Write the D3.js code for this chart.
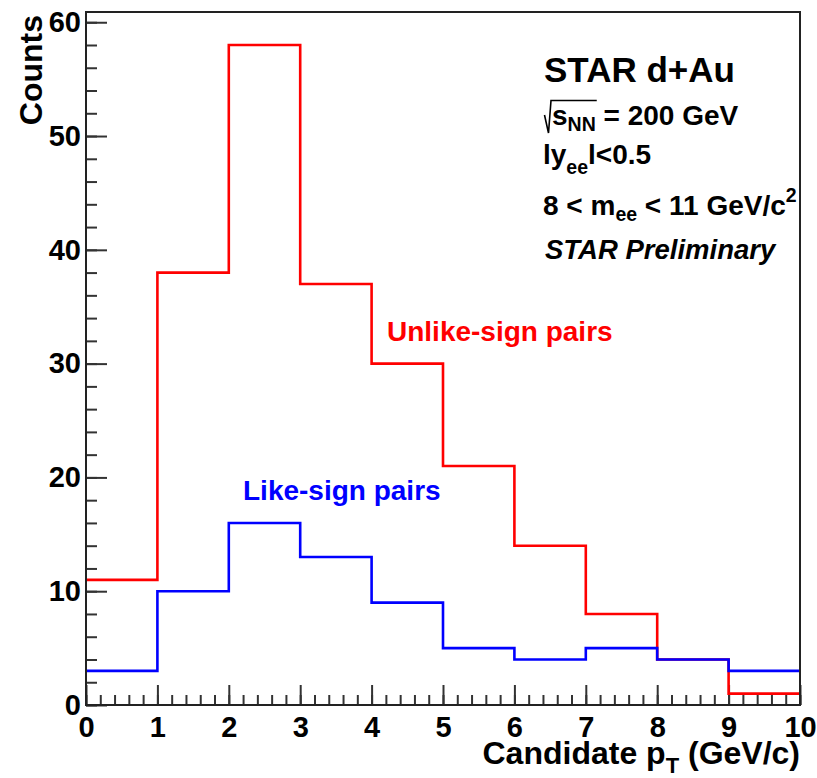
<!DOCTYPE html>
<html>
<head>
<meta charset="utf-8">
<script src="https://cdn.jsdelivr.net/npm/d3@7"></script>
<style>
  body { margin: 0; background: #fff; }
  text { font-family: "Liberation Sans", Arial, Helvetica, sans-serif; font-weight: bold; fill: #000; }
</style>
</head>
<body>
<svg id="chart" width="817" height="778"></svg>
<script>
// Candidate pT histogram: bin edges and per-bin counts
const binEdges = [0, 1, 2, 3, 4, 5, 6, 7, 8, 9, 10];
const unlikeSignCounts = [11, 38, 58, 37, 30, 21, 14, 8, 4, 1];
const likeSignCounts = [3, 10, 16, 13, 9, 5, 4, 5, 4, 3];
const xTickValues = [0, 1, 2, 3, 4, 5, 6, 7, 8, 9, 10];
const yTickValues = [0, 10, 20, 30, 40, 50, 60];
const yMax = 60.9;

const svg = d3.select("#chart");
const frame = { left: 86, top: 12, right: 800, bottom: 705 };

const x = d3.scaleLinear().domain([0, 10]).range([frame.left, frame.right]);
const y = d3.scaleLinear().domain([0, yMax]).range([frame.bottom, frame.top]);

// minor ticks
const xMinor = d3.range(0, 10.0001, 0.2).map(v => +v.toFixed(1));
const yMinor = d3.range(0, 60.0001, 2);

function styleAxis(g) {
  g.select(".domain").remove();
  g.selectAll(".tick line").attr("stroke", "#333").attr("stroke-width", 2);
  g.selectAll(".tick text")
    .style("font-family", '"Liberation Sans", Arial, sans-serif')
    .style("font-weight", "bold")
    .style("font-size", "29px")
    .attr("fill", "#000");
}

// x axis: minor then major ticks pointing up into the frame
svg.append("g")
  .attr("transform", `translate(0,${frame.bottom})`)
  .call(d3.axisBottom(x).tickValues(xMinor).tickSize(-10).tickFormat(""))
  .call(styleAxis);
svg.append("g")
  .attr("transform", `translate(0,${frame.bottom})`)
  .call(d3.axisBottom(x).tickValues(xTickValues).tickSize(-20).tickPadding(11).tickFormat(d3.format("d")))
  .call(styleAxis);

// y axis: minor then major ticks pointing right into the frame
svg.append("g")
  .attr("transform", `translate(${frame.left},0)`)
  .call(d3.axisLeft(y).tickValues(yMinor).tickSize(-11).tickFormat(""))
  .call(styleAxis);
svg.append("g")
  .attr("transform", `translate(${frame.left},0)`)
  .call(d3.axisLeft(y).tickValues(yTickValues).tickSize(-21).tickPadding(5).tickFormat(d3.format("d")))
  .call(styleAxis);

// histograms drawn as steps
const stepLine = d3.line()
  .x(d => x(d[0]))
  .y(d => y(d[1]))
  .curve(d3.curveStepAfter);

function steps(counts) {
  return binEdges.map((e, i) => [e, counts[Math.min(i, counts.length - 1)]]);
}

svg.append("path")
  .datum(steps(unlikeSignCounts))
  .attr("d", stepLine)
  .attr("fill", "none")
  .attr("stroke", "#ff0000")
  .attr("stroke-width", 2.6);

svg.append("path")
  .datum(steps(likeSignCounts))
  .attr("d", stepLine)
  .attr("fill", "none")
  .attr("stroke", "#0000ff")
  .attr("stroke-width", 2.6);

// frame
svg.append("rect")
  .attr("x", frame.left).attr("y", frame.top)
  .attr("width", frame.right - frame.left)
  .attr("height", frame.bottom - frame.top)
  .attr("fill", "none")
  .attr("stroke", "#222")
  .attr("stroke-width", 2);

// axis titles
svg.append("text")
  .attr("transform", "translate(42,15) rotate(-90)")
  .attr("text-anchor", "end")
  .style("font-size", "32px")
  .text("Counts");

const xTitle = svg.append("text")
  .attr("x", frame.right).attr("y", 764)
  .attr("text-anchor", "end")
  .style("font-size", "32px");
xTitle.append("tspan").text("Candidate p");
xTitle.append("tspan").attr("dy", 9).style("font-size", "22px").text("T");
xTitle.append("tspan").attr("dy", -9).text(" (GeV/c)");

// series labels
svg.append("text")
  .attr("x", 387).attr("y", 341)
  .style("font-size", "28px")
  .style("fill", "#ff0000")
  .text("Unlike-sign pairs");

svg.append("text")
  .attr("x", 243).attr("y", 500)
  .style("font-size", "28px")
  .style("fill", "#0000ff")
  .text("Like-sign pairs");

// info block
svg.append("text")
  .attr("x", 544).attr("y", 82)
  .style("font-size", "35px")
  .text("STAR d+Au");

const sq = svg.append("text")
  .attr("x", 552).attr("y", 125)
  .style("font-size", "28px");
const sTs = sq.append("tspan").text("s");
const nnTs = sq.append("tspan").attr("dy", 6).style("font-size", "19.5px").text("NN");
sq.append("tspan").attr("dy", -6).text(" = 200 GeV");
const rootEnd = 552 + sTs.node().getComputedTextLength() + nnTs.node().getComputedTextLength() + 1;
svg.append("path")
  .attr("d", `M544.5,115 L548.5,133 L551,100.5 L${rootEnd},100.5`)
  .attr("fill", "none")
  .attr("stroke", "#000")
  .attr("stroke-width", 1.6);

const yee = svg.append("text")
  .attr("x", 543).attr("y", 164)
  .style("font-size", "28px");
yee.append("tspan").text("ly");
yee.append("tspan").attr("dy", 10).style("font-size", "19.5px").text("ee");
yee.append("tspan").attr("dy", -10).text("l<0.5");

const mee = svg.append("text")
  .attr("x", 543).attr("y", 215)
  .style("font-size", "28px");
mee.append("tspan").text("8 < m");
mee.append("tspan").attr("dy", 6).style("font-size", "19.5px").text("ee");
mee.append("tspan").attr("dy", -6).text(" < 11 GeV/c");
mee.append("tspan").attr("dy", -13).style("font-size", "19.5px").text("2");

svg.append("text")
  .attr("x", 545).attr("y", 259)
  .style("font-size", "27.5px")
  .style("font-style", "italic")
  .text("STAR Preliminary");
</script>
</body>
</html>
